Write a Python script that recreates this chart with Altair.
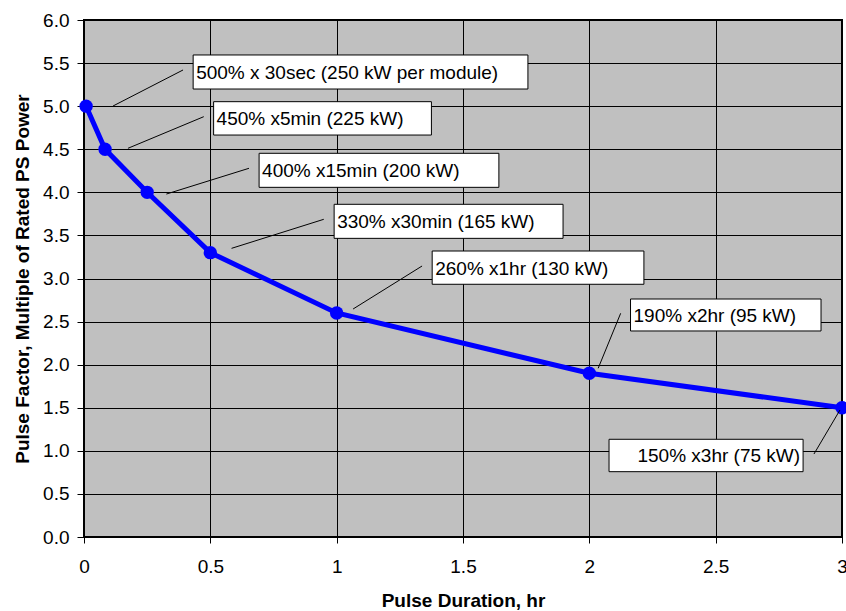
import altair as alt
import pandas as pd

# Main series
duration_hr = [30 / 3600, 5 / 60, 0.25, 0.5, 1, 2, 3]
pulse_factor = [5.0, 4.5, 4.0, 3.3, 2.6, 1.9, 1.5]

# Annotation labels
labels = [
    "500% x 30sec (250 kW per module)",
    "450% x5min (225 kW)",
    "400% x15min (200 kW)",
    "330% x30min (165 kW)",
    "260% x1hr (130 kW)",
    "190% x2hr (95 kW)",
    "150% x3hr (75 kW)",
]
label_align = ["left", "left", "left", "left", "left", "left", "right"]
# box extents (data units)
box_x1 = [0.432, 0.513, 0.693, 0.990, 1.378, 2.163, 2.078]
box_x2 = [1.757, 1.375, 1.642, 1.896, 2.216, 2.917, 2.846]
box_ytop = [5.594, 5.052, 4.453, 3.861, 3.319, 2.762, 1.134]
box_ybot = [5.199, 4.665, 4.058, 3.466, 2.933, 2.391, 0.758]
# leader lines (data units)
lead_x1 = [0.115, 0.174, 0.326, 0.584, 1.065, 2.035, 2.889]
lead_y1 = [5.002, 4.511, 3.980, 3.350, 2.646, 1.958, 0.963]
lead_x2 = [0.392, 0.474, 0.653, 0.949, 1.338, 2.124, 2.992]
lead_y2 = [5.420, 4.878, 4.279, 3.687, 3.145, 2.596, 1.474]

x_ticks = [0, 0.5, 1, 1.5, 2, 2.5, 3]
y_ticks = [0, 0.5, 1, 1.5, 2, 2.5, 3, 3.5, 4, 4.5, 5, 5.5, 6]

FONT = "Liberation Sans"

series = pd.DataFrame({"x": duration_hr, "y": pulse_factor})
ann = pd.DataFrame({
    "label": labels, "align": label_align,
    "bx1": box_x1, "bx2": box_x2, "byt": box_ytop, "byb": box_ybot,
    "lx1": lead_x1, "ly1": lead_y1, "lx2": lead_x2, "ly2": lead_y2,
})
ann["ymid"] = (ann["byt"] + ann["byb"]) / 2

xscale = alt.Scale(domain=[0, 3], nice=False, zero=False)
yscale = alt.Scale(domain=[0, 6], nice=False)

xaxis = alt.Axis(values=x_ticks, format="~g", title="Pulse Duration, hr",
                 grid=True, gridColor="black", gridWidth=1, gridOpacity=1,
                 domain=False, tickColor="black", tickSize=6, labelPadding=14,
                 labelFontSize=19, labelFont=FONT, labelColor="black",
                 titleFont=FONT, titleFontSize=19, titleFontWeight="bold",
                 titleColor="black", titlePadding=15, labelFlush=False)
yaxis = alt.Axis(values=y_ticks, format=".1f",
                 title="Pulse Factor, Multiple of Rated PS Power",
                 grid=True, gridColor="black", gridWidth=1, gridOpacity=1,
                 domain=False, tickColor="black", tickSize=7, labelPadding=8,
                 labelFontSize=19, labelFont=FONT, labelColor="black",
                 titleFont=FONT, titleFontSize=19, titleFontWeight="bold",
                 titleColor="black", titlePadding=10, labelFlush=False)

base = alt.Chart(series)

line = base.mark_line(color="#0000FF", strokeWidth=5).encode(
    x=alt.X("x:Q", scale=xscale, axis=xaxis),
    y=alt.Y("y:Q", scale=yscale, axis=yaxis),
)
pts = base.mark_circle(color="#0000FF", size=180, opacity=1).encode(
    x=alt.X("x:Q", scale=xscale), y=alt.Y("y:Q", scale=yscale))

abase = alt.Chart(ann)
leaders = abase.mark_rule(color="black", strokeWidth=1).encode(
    x=alt.X("lx1:Q", scale=xscale), y=alt.Y("ly1:Q", scale=yscale),
    x2="lx2:Q", y2="ly2:Q")
boxes = abase.mark_rect(fill="white", stroke="black", strokeWidth=1).encode(
    x=alt.X("bx1:Q", scale=xscale), x2="bx2:Q",
    y=alt.Y("byt:Q", scale=yscale), y2="byb:Q")
text_left = abase.transform_filter(alt.datum.align == "left").mark_text(
    align="left", baseline="middle", dx=3, dy=1, fontSize=19, font=FONT,
    color="black").encode(
    x=alt.X("bx1:Q", scale=xscale), y=alt.Y("ymid:Q", scale=yscale),
    text="label:N")
text_right = abase.transform_filter(alt.datum.align == "right").mark_text(
    align="right", baseline="middle", dx=-3, dy=1, fontSize=19, font=FONT,
    color="black").encode(
    x=alt.X("bx2:Q", scale=xscale), y=alt.Y("ymid:Q", scale=yscale),
    text="label:N")

chart = alt.layer(line, pts, leaders, boxes, text_left, text_right).properties(
    width=758, height=517,
    autosize=alt.AutoSizeParams(type="none"),
    padding={"left": 84, "top": 20, "right": 4, "bottom": 74},
    background="white",
).configure_view(fill="#C0C0C0", stroke="black", strokeWidth=2)

chart.save("out.html", embed_options={"renderer": "svg", "actions": False})
